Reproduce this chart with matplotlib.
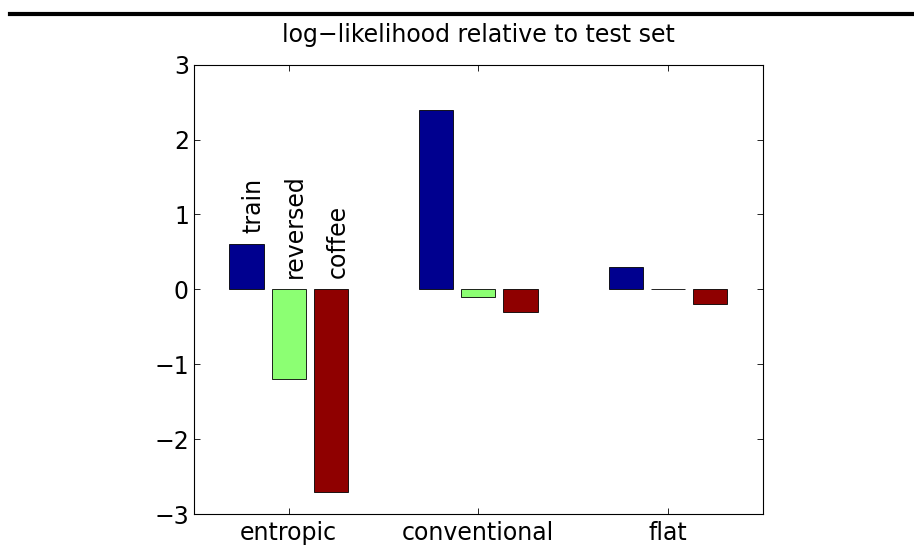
import matplotlib
matplotlib.use("Agg")
import matplotlib.pyplot as plt
from matplotlib.lines import Line2D
import numpy as np

categories = ["entropic", "conventional", "flat"]
series_names = ["train", "reversed", "coffee"]
train = [0.6, 2.4, 0.3]
reversed_ = [-1.2, -0.1, 0.0]
coffee = [-2.7, -0.3, -0.2]
yticks = [-3, -2, -1, 0, 1, 2, 3]
ytick_labels = ["\u22123", "\u22122", "\u22121", "0", "1", "2", "3"]
title = "log\u2212likelihood relative to test set"

colors = ["#00008F", "#8CFF73", "#8F0000"]

plt.rcParams['font.family'] = ['DejaVu Sans']
fs = 17

fig = plt.figure(figsize=(9.14, 5.48), dpi=100)
ax = fig.add_axes([193.7/914, 1-514/548, (763-193.7)/914, (514-64.7)/548])

x = np.arange(1, len(categories)+1)
offset = 0.222
width = 0.18
allseries = [train, reversed_, coffee]
for i, (vals, c) in enumerate(zip(allseries, colors)):
    ax.bar(x + (i-1)*offset, vals, width=width, color=c, edgecolor='black', linewidth=0.6, zorder=2)

# labels above the first group
for i, name in enumerate(series_names):
    v = allseries[i][0]
    ax.text(x[0] + (i-1)*offset + 0.035, max(v, 0) + 0.15, name, rotation=90,
            ha='center', va='bottom', fontsize=fs)

ax.set_xlim(0.5, 3.5)
ax.set_ylim(-3, 3)
ax.set_xticks(x)
ax.set_xticklabels(categories, fontsize=fs)
ax.set_yticks(yticks)
ax.set_yticklabels(ytick_labels, fontsize=fs)
ax.tick_params(direction='in', length=4.3, width=0.6, top=True, right=True)
ax.tick_params(axis='y', pad=3.5)
ax.tick_params(axis='x', pad=5)
for s in ax.spines.values():
    s.set_linewidth(0.8)
ax.set_title(title, fontsize=fs, pad=16)

fig.add_artist(Line2D([10/914, 1.0], [1-14/548, 1-14/548], color='black', linewidth=3.0,
                      transform=fig.transFigure))

fig.savefig("out.png", dpi=100)
